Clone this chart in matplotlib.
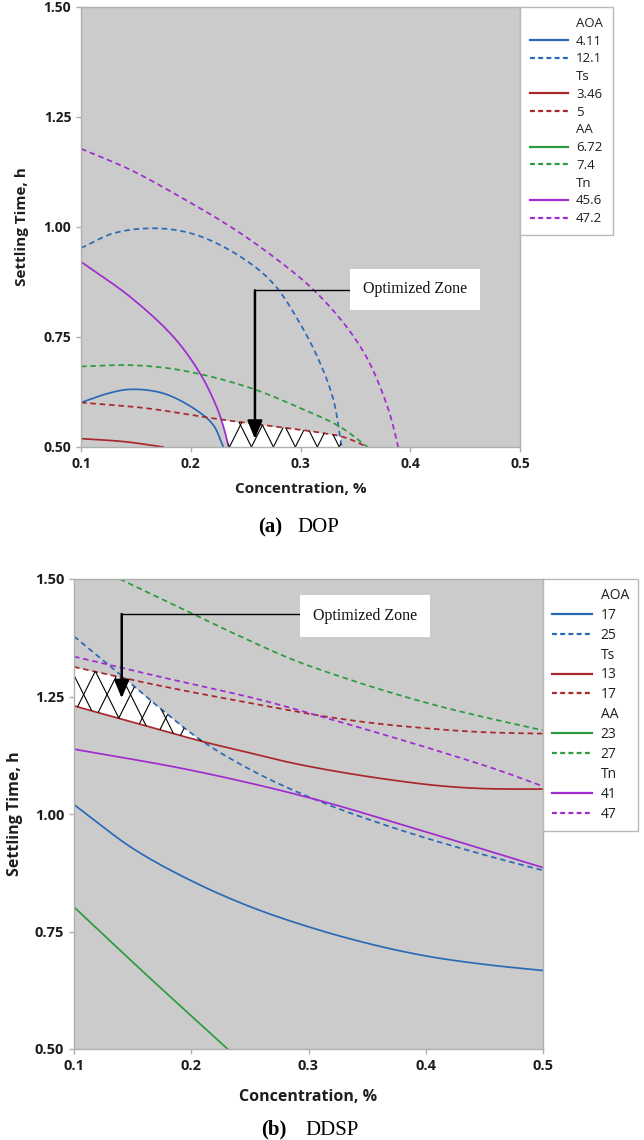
import numpy as np
import matplotlib.pyplot as plt
from matplotlib.lines import Line2D

plt.rcParams['font.family'] = ['Open Sans', 'DejaVu Sans']

# ---------------- (a) DOP : contour lines
dop_aoa_lo_x = [0.10, 0.125, 0.145, 0.175, 0.205, 0.2205, 0.2297]
dop_aoa_lo_y = [0.601, 0.622, 0.631, 0.622, 0.584, 0.550, 0.500]
dop_aoa_hi_x = [0.10, 0.13, 0.169, 0.205, 0.245, 0.275, 0.2995, 0.318, 0.33, 0.3375]
dop_aoa_hi_y = [0.952, 0.986, 0.997, 0.982, 0.933, 0.872, 0.781, 0.690, 0.607, 0.500]
dop_ts_lo_x = [0.10, 0.14, 0.175]
dop_ts_lo_y = [0.519, 0.512, 0.500]
dop_ts_hi_x = [0.10, 0.16, 0.2205, 0.266, 0.312, 0.34, 0.361]
dop_ts_hi_y = [0.601, 0.588, 0.565, 0.550, 0.535, 0.522, 0.500]
dop_aa_lo_x = []
dop_aa_lo_y = []
dop_aa_hi_x = [0.10, 0.145, 0.19, 0.251, 0.2965, 0.336, 0.361]
dop_aa_hi_y = [0.683, 0.686, 0.675, 0.637, 0.592, 0.546, 0.500]
dop_tn_lo_x = [0.10, 0.1446, 0.1841, 0.2084, 0.2236, 0.2305, 0.2345]
dop_tn_lo_y = [0.921, 0.8416, 0.7507, 0.6675, 0.591, 0.540, 0.500]
dop_tn_hi_x = [0.10, 0.145, 0.19, 0.236, 0.275, 0.312, 0.342, 0.36, 0.372, 0.382, 0.389]
dop_tn_hi_y = [1.178, 1.130, 1.069, 1.001, 0.933, 0.857, 0.773, 0.705, 0.640, 0.570, 0.500]
dop_levels = {'AOA': ['4.11', '12.1'], 'Ts': ['3.46', '5'], 'AA': ['6.72', '7.4'], 'Tn': ['45.6', '47.2']}

# ---------------- (b) DDSP
ddsp_aoa_lo_x = [0.1, 0.15, 0.2, 0.25, 0.3, 0.35, 0.4, 0.45, 0.5]
ddsp_aoa_lo_y = [1.020, 0.927, 0.858, 0.803, 0.760, 0.725, 0.698, 0.680, 0.667]
ddsp_aoa_hi_x = [0.1, 0.135, 0.17, 0.21, 0.26, 0.3155, 0.36, 0.4, 0.45, 0.5]
ddsp_aoa_hi_y = [1.378, 1.306, 1.232, 1.154, 1.082, 1.021, 0.981, 0.949, 0.913, 0.880]
ddsp_ts_lo_x = [0.1, 0.145, 0.21, 0.25, 0.287, 0.33, 0.372, 0.412, 0.45, 0.5]
ddsp_ts_lo_y = [1.230, 1.199, 1.154, 1.130, 1.108, 1.088, 1.072, 1.060, 1.054, 1.053]
ddsp_ts_hi_x = [0.1, 0.173, 0.259, 0.3155, 0.36, 0.412, 0.45, 0.5]
ddsp_ts_hi_y = [1.313, 1.273, 1.232, 1.207, 1.192, 1.180, 1.174, 1.171]
ddsp_aa_lo_x = [0.1, 0.163, 0.231]
ddsp_aa_lo_y = [0.802, 0.655, 0.500]
ddsp_aa_hi_x = [0.139, 0.196, 0.24, 0.287, 0.33, 0.372, 0.412, 0.45, 0.5]
ddsp_aa_hi_y = [1.500, 1.432, 1.380, 1.328, 1.290, 1.257, 1.229, 1.206, 1.178]
ddsp_tn_lo_x = [0.1, 0.2, 0.3, 0.4, 0.5]
ddsp_tn_lo_y = [1.138, 1.093, 1.035, 0.962, 0.886]
ddsp_tn_hi_x = [0.1, 0.173, 0.259, 0.3155, 0.36, 0.412, 0.46, 0.5]
ddsp_tn_hi_y = [1.335, 1.292, 1.243, 1.204, 1.172, 1.133, 1.095, 1.059]
ddsp_levels = {'AOA': ['17', '25'], 'Ts': ['13', '17'], 'AA': ['23', '27'], 'Tn': ['41', '47']}

colors = {'AOA': '#2a6ab5', 'Ts': '#a8282c', 'AA': '#2e9a3e', 'Tn': '#a02ccf'}
DASH = (3.2, 2.2)
TXT = '#1e1e1e'

fig = plt.figure(figsize=(6.44, 11.40), dpi=100)
ax1 = fig.add_axes([81 / 644, 1 - 447 / 1140, 439 / 644, 440 / 1140])
ax2 = fig.add_axes([74 / 644, 1 - 1049 / 1140, 469 / 644, 470 / 1140])


def spline(x, y, n=30):
    # centripetal Catmull-Rom through the read points (x stretched to match screen aspect)
    if len(x) < 3:
        return np.asarray(x, float), np.asarray(y, float)
    P = np.column_stack([np.asarray(x, float) * 2.5, np.asarray(y, float)])
    P = np.vstack([2 * P[0] - P[1], P, 2 * P[-1] - P[-2]])
    out = []
    for i in range(1, len(P) - 2):
        p0, p1, p2, p3 = P[i - 1:i + 3]
        t0 = 0.0
        t1 = t0 + np.linalg.norm(p1 - p0) ** 0.5
        t2 = t1 + np.linalg.norm(p2 - p1) ** 0.5
        t3 = t2 + np.linalg.norm(p3 - p2) ** 0.5
        t = np.linspace(t1, t2, n)[:, None]
        a1 = (t1 - t) / (t1 - t0) * p0 + (t - t0) / (t1 - t0) * p1
        a2 = (t2 - t) / (t2 - t1) * p1 + (t - t1) / (t2 - t1) * p2
        a3 = (t3 - t) / (t3 - t2) * p2 + (t - t2) / (t3 - t2) * p3
        b1 = (t2 - t) / (t2 - t0) * a1 + (t - t0) / (t2 - t0) * a2
        b2 = (t3 - t) / (t3 - t1) * a2 + (t - t1) / (t3 - t1) * a3
        c = (t2 - t) / (t2 - t1) * b1 + (t - t1) / (t2 - t1) * b2
        out.append(c[:-1] if i < len(P) - 3 else c)
    C = np.vstack(out)
    return C[:, 0] / 2.5, C[:, 1]


def draw_curves(ax, curves):
    smoothed = {}
    for name, lo, hi in curves:
        for key, (xs, ys), dashed in (('lo', lo, False), ('hi', hi, True)):
            if len(xs) == 0:
                continue
            sx, sy = spline(xs, ys)
            smoothed[(name, key)] = (sx, sy)
            ln, = ax.plot(sx, sy, color=colors[name], lw=1.25, zorder=2)
            if dashed:
                ln.set_dashes(DASH)
    return smoothed


def curve_at(smoothed, key, xg, right=None):
    sx, sy = smoothed[key]
    order = np.argsort(sx)
    return np.interp(xg, sx[order], sy[order], right=right)


def style_axes(ax, fs):
    ax.set_xlim(0.1, 0.5)
    ax.set_ylim(0.5, 1.5)
    ax.set_facecolor('#cbcbcb')
    ax.set_xticks([0.1, 0.2, 0.3, 0.4, 0.5])
    ax.set_xticklabels(['0.1', '0.2', '0.3', '0.4', '0.5'])
    ax.set_yticks([0.5, 0.75, 1.0, 1.25, 1.5])
    ax.set_yticklabels(['0.50', '0.75', '1.00', '1.25', '1.50'])
    for s in ax.spines.values():
        s.set_color('#b0b0b0')
        s.set_linewidth(1)
    ax.tick_params(colors='#b0b0b0', length=3.5, width=1, labelcolor=TXT,
                   labelsize=fs, pad=3.5)
    for lab in ax.get_xticklabels() + ax.get_yticklabels():
        lab.set_fontweight('bold')
    ax.set_xlabel('Concentration, %', fontsize=fs + 1, fontweight='bold', color=TXT)
    ax.set_ylabel('Settling Time, h', fontsize=fs + 1, fontweight='bold', color=TXT)


def add_legend(ax, levels, fs, spacing, bpad):
    handles, labels = [], []
    for name, (lo, hi) in levels.items():
        handles.append(Line2D([], [], linestyle='none'))
        labels.append(name)
        handles.append(Line2D([], [], color=colors[name], lw=1.6))
        labels.append(lo)
        h = Line2D([], [], color=colors[name], lw=1.6)
        h.set_dashes((2.2, 1.5))
        handles.append(h)
        labels.append(hi)
    leg = ax.legend(handles, labels, loc='upper left', bbox_to_anchor=(1.0, 1.0),
                    borderaxespad=0, fontsize=fs, handlelength=2.9, handletextpad=0.6,
                    labelspacing=spacing, borderpad=bpad, fancybox=False, framealpha=1,
                    edgecolor='#b8b8b8')
    leg.get_frame().set_linewidth(1)
    for t in leg.get_texts():
        t.set_color(TXT)


def add_zone(ax, xg, lower, upper, step, slope):
    ok = upper > lower
    poly = ax.fill_between(xg, lower, upper, where=ok, interpolate=True,
                           color='white', lw=0, zorder=1.5)
    path = poly.get_paths()[0]
    ymin, ymax = lower[ok].min(), upper[ok].max()
    x0, x1 = xg[ok].min(), xg[ok].max()
    dx = (ymax - ymin) / slope
    for c in np.arange(x0 - dx, x1 + dx, step):
        for sgn in (1, -1):
            ln, = ax.plot([c, c + sgn * dx], [ymin, ymax], color='black', lw=0.8, zorder=2.5)
            ln.set_clip_path(path, ax.transData)


def add_callout(ax, box_xy, corner_x, tip_y, line_y):
    ax.text(box_xy[0], box_xy[1], 'Optimized Zone', family='Liberation Serif', fontsize=11.5,
            ha='center', va='center', color='#111111', zorder=5,
            bbox=dict(boxstyle='square,pad=0.8', fc='white', ec='none'))
    ax.plot([corner_x, box_xy[0]], [line_y, line_y], color='black', lw=1, zorder=4)
    ax.annotate('', xy=(corner_x, tip_y), xytext=(corner_x, line_y),
                arrowprops=dict(arrowstyle='-|>,head_length=1.1,head_width=0.45',
                                color='black', lw=1.8, shrinkA=0, shrinkB=0), zorder=4)


# ---- panel (a)
sm = draw_curves(ax1, [('AOA', (dop_aoa_lo_x, dop_aoa_lo_y), (dop_aoa_hi_x, dop_aoa_hi_y)),
                       ('Ts', (dop_ts_lo_x, dop_ts_lo_y), (dop_ts_hi_x, dop_ts_hi_y)),
                       ('AA', (dop_aa_lo_x, dop_aa_lo_y), (dop_aa_hi_x, dop_aa_hi_y)),
                       ('Tn', (dop_tn_lo_x, dop_tn_lo_y), (dop_tn_hi_x, dop_tn_hi_y))])
xg = np.linspace(0.225, 0.345, 600)
lower = np.maximum(0.5, curve_at(sm, ('Tn', 'lo'), xg, right=0.5))
upper = np.minimum(curve_at(sm, ('Ts', 'hi'), xg, right=0.5),
                   curve_at(sm, ('AOA', 'hi'), xg, right=0.5))
add_zone(ax1, xg, lower, upper, 0.02, 5.0)
style_axes(ax1, 10)
ax1.xaxis.set_label_coords(0.5, -0.08)
ax1.yaxis.set_label_coords(-0.118, 0.5)
add_legend(ax1, dop_levels, 9.5, 0.36, 0.75)
add_callout(ax1, (0.4045, 0.858), 0.2585, 0.518, 0.856)

# ---- panel (b)
sm = draw_curves(ax2, [('AOA', (ddsp_aoa_lo_x, ddsp_aoa_lo_y), (ddsp_aoa_hi_x, ddsp_aoa_hi_y)),
                       ('Ts', (ddsp_ts_lo_x, ddsp_ts_lo_y), (ddsp_ts_hi_x, ddsp_ts_hi_y)),
                       ('AA', (ddsp_aa_lo_x, ddsp_aa_lo_y), (ddsp_aa_hi_x, ddsp_aa_hi_y)),
                       ('Tn', (ddsp_tn_lo_x, ddsp_tn_lo_y), (ddsp_tn_hi_x, ddsp_tn_hi_y))])
xg = np.linspace(0.1, 0.24, 600)
lower = curve_at(sm, ('Ts', 'lo'), xg)
upper = np.minimum(curve_at(sm, ('Ts', 'hi'), xg), curve_at(sm, ('AOA', 'hi'), xg))
add_zone(ax2, xg, lower, upper, 0.02, 5.0)
style_axes(ax2, 10.5)
ax2.xaxis.set_label_coords(0.5, -0.085)
ax2.yaxis.set_label_coords(-0.108, 0.5)
add_legend(ax2, ddsp_levels, 10, 0.35, 0.65)
add_callout(ax2, (0.348, 1.421), 0.1407, 1.246, 1.4255)

# ---- captions
for xr, xl, y, tag, name in ((282, 297, 0.5333, '(a)', 'DOP'), (287, 305, 0.0044, '(b)', 'DDSP')):
    fig.text(xr / 644, y, tag, ha='right', va='baseline', family='Liberation Serif',
             fontweight='bold', fontsize=15)
    fig.text(xl / 644, y, name, ha='left', va='baseline', family='Liberation Serif', fontsize=15)

fig.savefig('out.png', dpi=100, facecolor='white')
